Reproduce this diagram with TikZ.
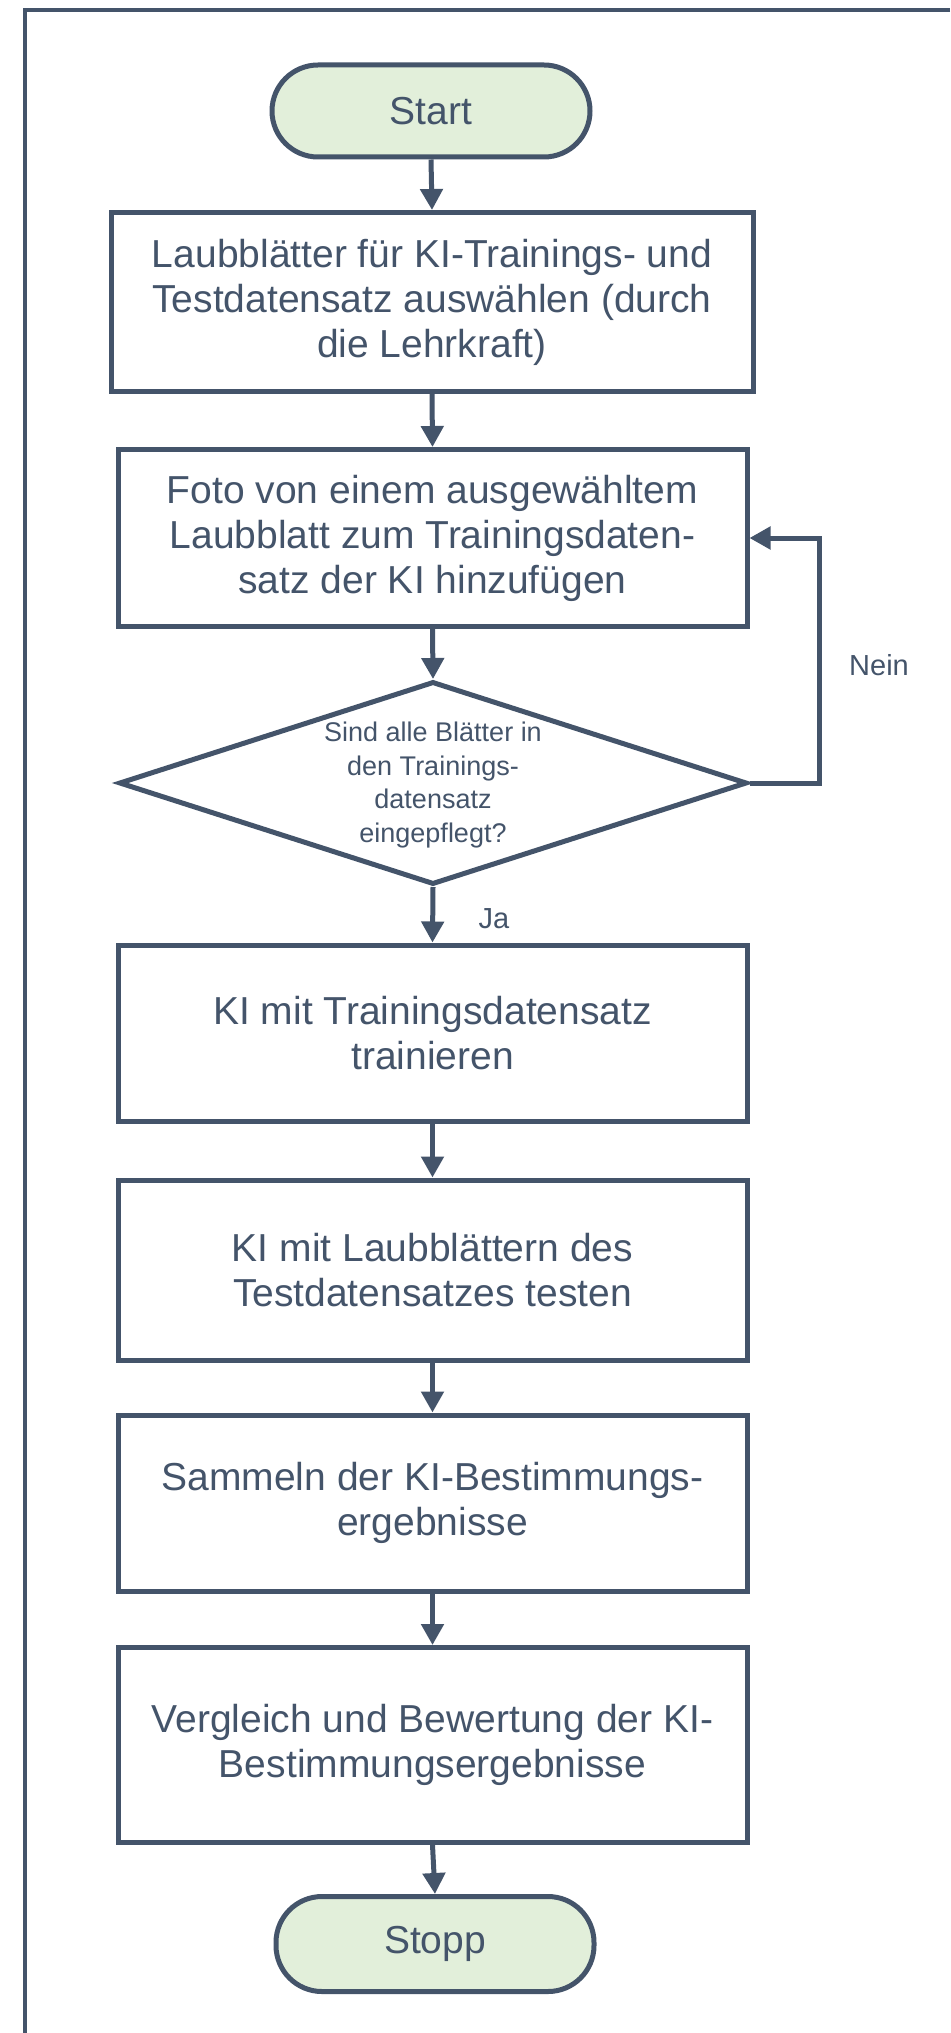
\documentclass[tikz,border=0pt]{standalone}
\usepackage{fontspec}
\setmainfont{Liberation Sans}
\usetikzlibrary{arrows.meta,shapes.geometric,calc}
\definecolor{lineC}{HTML}{44546A}
\definecolor{termC}{HTML}{E2EFDA}
\begin{document}
\begin{tikzpicture}[x=1pt,y=-1pt,
  every node/.style={text=lineC},
  procbox/.style={draw=lineC, line width=5pt, fill=white, align=center, inner sep=0pt,
    font=\fontsize{39}{45}\selectfont},
  termbox/.style={draw=lineC, line width=5pt, fill=termC, rounded corners=46pt, inner sep=0pt,
    minimum width=318pt, font=\fontsize{39}{45}\selectfont},
  decbox/.style={draw=lineC, line width=5pt, fill=white, diamond, inner sep=0pt,
    minimum width=628pt, minimum height=203pt},
  dectext/.style={align=center, font=\fontsize{27}{33.5}\selectfont},
  lbl/.style={font=\fontsize{29}{34}\selectfont},
  flow/.style={draw=lineC, line width=5pt, -{Triangle[length=21pt,width=22pt]}},
  frameline/.style={draw=lineC, line width=4.5pt}
]
\useasboundingbox (0,0) rectangle (950,2033);
\fill[white] (0,0) rectangle (950,2033);
\draw[frameline] (950,10) -- (25,10) -- (25,2033);

\node[termbox, minimum height=92pt] (start) at (431,111) {Start};
\node[procbox, minimum width=642pt, minimum height=179pt] (b1) at (432,302)
  {Laubblätter für KI-Trainings- und\\Testdatensatz auswählen (durch\\die Lehrkraft)};
\node[procbox, minimum width=629pt, minimum height=177pt] (b2) at (432.5,538)
  {Foto von einem ausgewähltem\\Laubblatt zum Trainingsdaten-\\satz der KI hinzufügen};
\node[decbox] (dec) at (433,783) {};
\node[dectext] (dect) at (433,785) {Sind alle Blätter in\\den Trainings-\\datensatz\\eingepflegt?};
\node[procbox, minimum width=629pt, minimum height=176pt] (b3) at (432.5,1033)
  {KI mit Trainingsdatensatz\\trainieren};
\node[procbox, minimum width=629pt, minimum height=180pt] (b4) at (432.5,1270)
  {KI mit Laubblättern des\\Testdatensatzes testen};
\node[procbox, minimum width=629pt, minimum height=176pt] (b5) at (432.5,1503)
  {Sammeln der KI-Bestimmungs-\\ergebnisse};
\node[procbox, minimum width=629pt, minimum height=195pt] (b6) at (432.5,1745)
  {Vergleich und Bewertung der KI-\\Bestimmungsergebnisse};
\node[termbox, minimum height=95pt] (stop) at (435,1944) {Stopp};

\draw[flow] (start.south) -- (b1.north);
\draw[flow] (b1.south) -- (b2.north);
\draw[flow] (b2.south) -- (dec.north);
\draw[flow] (dec.south) -- (b3.north);
\draw[flow] (b3.south) -- (b4.north);
\draw[flow] (b4.south) -- (b5.north);
\draw[flow] (b5.south) -- (b6.north);
\draw[flow] (b6.south) -- (stop.north);
\coordinate (loopc) at (819,783);
\draw[flow] (dec.east) -- (loopc) |- (b2.east);

\node[lbl] (nein) at (879,665) {Nein};
\node[lbl] (ja) at (494,919) {Ja};
\end{tikzpicture}
\end{document}
